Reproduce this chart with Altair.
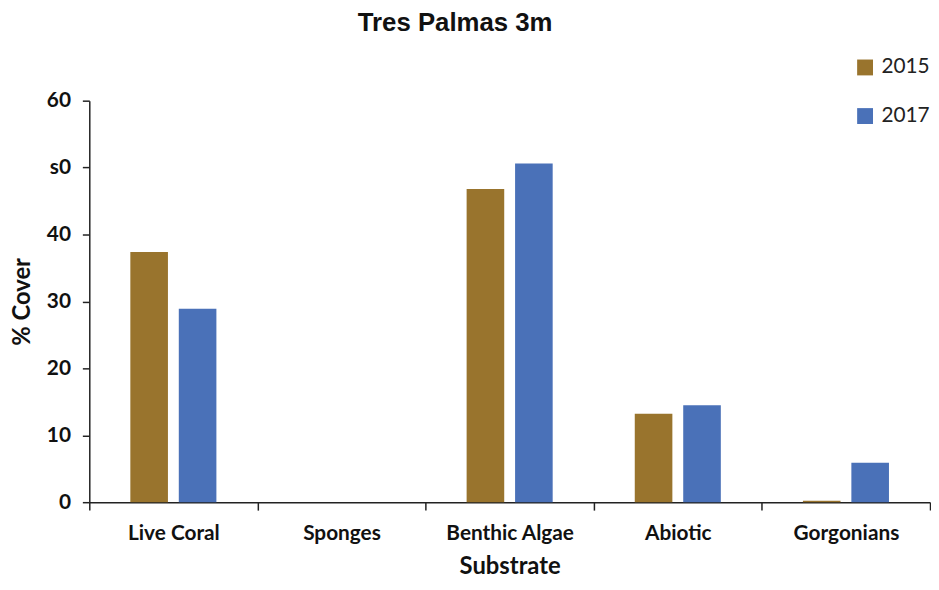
import altair as alt
import pandas as pd

categories = ["Live Coral", "Sponges", "Benthic Algae", "Abiotic", "Gorgonians"]
years = ["2015", "2017"]
cover_2015 = [37.4, 0.0, 46.8, 13.2, 0.2]
cover_2017 = [28.9, 0.0, 50.6, 14.5, 5.9]
y_ticks = [0, 10, 20, 30, 40, 50, 60]

rows = []
for c, a, b in zip(categories, cover_2015, cover_2017):
    rows.append({"Substrate": c, "Year": "2015", "Cover": a})
    rows.append({"Substrate": c, "Year": "2017", "Cover": b})
df = pd.DataFrame(rows)

bars = alt.Chart(df).mark_bar().encode(
    x=alt.X("Substrate:N", sort=categories,
            scale=alt.Scale(paddingInner=0, paddingOuter=0),
            axis=alt.Axis(title="Substrate", labelAngle=0, tickBand="extent",
                          labelFont="Lato", labelFontWeight="bold", labelFontSize=21,
                          labelColor="#111", titleFont="Lato", titleFontWeight="bold",
                          titleFontSize=24, titleColor="#111", tickSize=8,
                          tickColor="#222", domainColor="#222", tickWidth=1.5,
                          domainWidth=1.5, labelPadding=13, titlePadding=11)),
    xOffset=alt.XOffset("Year:N", sort=years,
                        scale=alt.Scale(paddingInner=0.224, paddingOuter=0.847)),
    y=alt.Y("Cover:Q", scale=alt.Scale(domain=[0, 60], nice=False),
            axis=alt.Axis(title="% Cover", values=y_ticks, grid=False,
                          labelExpr="datum.value == 50 ? 's0' : datum.label",
                          labelFont="Lato", labelFontWeight="bold", labelFontSize=21,
                          labelColor="#111", titleFont="Lato", titleFontWeight="bold",
                          titleFontSize=24, titleColor="#111", tickSize=7,
                          tickColor="#222", domainColor="#222", tickWidth=1.5,
                          domainWidth=1.5, labelPadding=12, titlePadding=12)),
    color=alt.Color("Year:N", sort=years,
                    scale=alt.Scale(domain=years, range=["#99742D", "#4A71B8"]),
                    legend=alt.Legend(title=None, orient="none", legendX=772, legendY=-44,
                                      symbolType="square", symbolSize=256,
                                      symbolStrokeWidth=0, labelFont="Lato",
                                      labelFontSize=21, labelColor="#222",
                                      rowPadding=27, labelOffset=6)),
).properties(
    width=848, height=405,
    title=alt.TitleParams("Tres Palmas 3m", font="Liberation Sans", fontSize=26,
                          fontWeight="bold", color="#111", anchor="middle",
                          frame="group", dx=-55, offset=21),
)

chart = bars.properties(
    autosize=alt.AutoSizeParams(type="none"),
    padding={"left": 82, "top": 91, "right": 1, "bottom": 76},
).configure_view(stroke=None)

chart.save("out.html", embed_options={"renderer": "svg", "actions": False})
